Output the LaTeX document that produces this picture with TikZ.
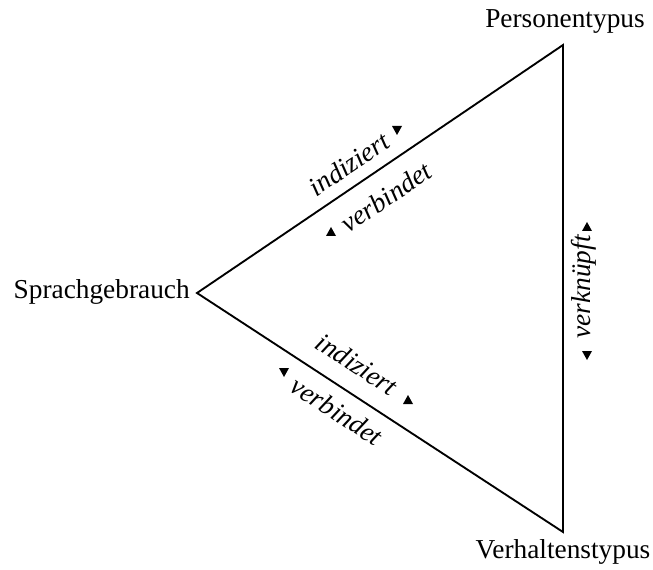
\documentclass[tikz,border=0pt]{standalone}
\usepackage{fontspec}
\setmainfont{Liberation Serif}
\usepackage{tikz}

\tikzset{
  corner/.style={inner sep=0.75pt, font=\fontsize{20.5}{24}\selectfont},
  relation/.style={inner sep=0.75pt, font=\fontsize{20.5}{24}\selectfont\itshape},
  pics/markup/.style={code={\fill (-5,-4) -- (5,-4) -- (0,5) -- cycle;}},
  pics/markdown/.style={code={\fill (-5,4) -- (5,4) -- (0,-5) -- cycle;}}
}

\begin{document}
\begin{tikzpicture}[x=0.75pt,y=0.75pt,yscale=-1,xscale=1]
\useasboundingbox (0,0) rectangle (653,570);

% Corners
\coordinate (sprache) at (197,293);
\coordinate (person) at (563,45);
\coordinate (verhalten) at (563,532);

% Triangle
\draw [line width=1.4pt, line join=miter] (sprache) -- (person) -- (verhalten) -- cycle;

% Text Node
\node (lsprache) [corner, anchor=base east] at (191,298) {Sprachgebrauch};
% Text Node
\node (lperson) [corner, anchor=base] at (565,28) {Personentypus};
% Text Node
\node (lverhalten) [corner, anchor=base] at (563,558) {Verhaltenstypus};

% Text Node
\node (indoben) [relation, rotate=34] at (349,164) {indiziert};
% Text Node
\node (verboben) [relation, rotate=34] at (386,197) {verbindet};
% Text Node
\node (indunten) [relation, rotate=-33] at (357,364) {indiziert};
% Text Node
\node (verbunten) [relation, rotate=-33] at (337,411) {verbindet};
% Text Node
\node (verkn) [relation, rotate=90] at (584,287) {verknüpft};

% Marks
\pic at (397,130) {markdown};
\pic at (331,232) {markup};
\pic at (408,400) {markup};
\pic at (284,372) {markdown};
\pic at (587,227) {markup};
\pic at (587,355) {markdown};

\end{tikzpicture}
\end{document}
